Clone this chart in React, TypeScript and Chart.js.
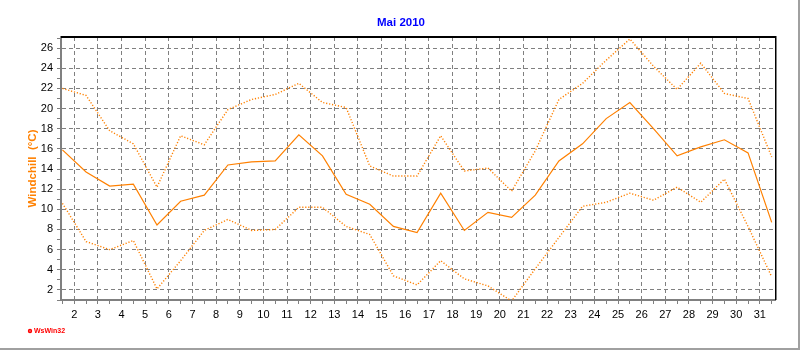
import { useEffect, useRef } from 'react';
import { Chart, registerables } from 'chart.js';

Chart.register(...registerables);

// ---- data (Mai 2010, Windchill °C) ----
const days = [1, 2, 3, 4, 5, 6, 7, 8, 9, 10, 11, 12, 13, 14, 15, 16, 17, 18, 19, 20, 21, 22, 23, 24, 25, 26, 27, 28, 29, 30, 31];
const maxTemps = [22.0, 21.3, 17.8, 16.5, 12.2, 17.3, 16.4, 19.9, 20.9, 21.4, 22.5, 20.6, 20.1, 14.3, 13.3, 13.3, 17.3, 13.8, 14.1, 11.8, 15.8, 20.9, 22.5, 24.8, 26.9, 24.2, 21.9, 24.5, 21.5, 21.0, 15.2];
const meanTemps = [15.9, 13.7, 12.3, 12.5, 8.45, 10.8, 11.4, 14.4, 14.7, 14.8, 17.4, 15.3, 11.5, 10.5, 8.3, 7.7, 11.6, 7.9, 9.7, 9.2, 11.4, 14.8, 16.5, 19.0, 20.6, 18.0, 15.3, 16.2, 16.9, 15.6, 8.7];
const minTemps = [10.6, 6.8, 6.0, 6.9, 2.1, 4.9, 7.9, 9.0, 7.9, 8.0, 10.2, 10.2, 8.3, 7.5, 3.4, 2.5, 4.9, 3.1, 2.4, 0.9, 4.1, 7.2, 10.3, 10.7, 11.6, 10.9, 12.2, 10.7, 13.0, 8.3, 3.3];
const xTickDays = [2, 3, 4, 5, 6, 7, 8, 9, 10, 11, 12, 13, 14, 15, 16, 17, 18, 19, 20, 21, 22, 23, 24, 25, 26, 27, 28, 29, 30, 31];
const yTickValues = [2, 4, 6, 8, 10, 12, 14, 16, 18, 20, 22, 24, 26];
const yMinorValues = [1, 3, 5, 7, 9, 11, 13, 15, 17, 19, 21, 23, 25, 27];

const titleText = 'Mai 2010';
const yAxisTitle = 'Windchill  (°C)';
const logoText = 'WsWin32';

const ORANGE = '#FF8000';
const GRID = '#808080';
const FONT = '"Liberation Sans", Arial, sans-serif';

const toPoints = (vals: number[]) => vals.map((v, i) => ({ x: days[i] + 0.5, y: v }));

const framePlugin = {
  id: 'frame',
  afterDraw(chart: any) {
    const { ctx, chartArea: a, width, height } = chart;
    ctx.save();
    // title
    ctx.fillStyle = '#0000FF';
    ctx.font = `bold 11.5px ${FONT}`;
    ctx.textAlign = 'center';
    ctx.textBaseline = 'middle';
    ctx.fillText(titleText, 401, 23);
    // plot frame (top / right)
    ctx.fillStyle = '#000';
    ctx.fillRect(a.left, a.top - 1, a.right - a.left + 1, 2);
    ctx.fillRect(a.right, a.top - 1, 1.5, a.bottom - a.top + 1);
    // outer shadow frame
    ctx.fillStyle = '#a0a0a0';
    ctx.fillRect(0, height - 2, width, 2);
    ctx.fillRect(width - 2, 0, 2, height);
    // logo
    ctx.fillStyle = '#FF0000';
    ctx.beginPath();
    ctx.arc(30, 331, 2.2, 0, Math.PI * 2);
    ctx.fill();
    ctx.fillStyle = '#fff';
    ctx.fillRect(29.5, 330.5, 1, 1);
    ctx.fillStyle = '#FF0000';
    ctx.font = `bold 7px ${FONT}`;
    ctx.textBaseline = 'middle';
    ctx.textAlign = 'left';
    ctx.fillText(logoText, 34, 331.5);
    ctx.restore();
  },
};

export default function App() {
  const ref = useRef<HTMLCanvasElement>(null);

  useEffect(() => {
    if (!ref.current) return;
    const xTicks: number[] = [];
    days.forEach((d) => {
      xTicks.push(d + 0.5);
      if (d + 1 <= days[days.length - 1]) xTicks.push(d + 1);
    });
    const yTicks = [...yMinorValues, ...yTickValues].sort((a, b) => a - b);

    const dotted = {
      borderColor: ORANGE,
      borderWidth: 1.4,
      borderDash: [1.2, 1.8],
      pointRadius: 0,
      tension: 0,
      fill: false,
    };

    const chart = new Chart(ref.current, {
      type: 'line',
      data: {
        datasets: [
          { label: 'Max', data: toPoints(maxTemps), ...dotted },
          {
            label: 'Mittel',
            data: toPoints(meanTemps),
            borderColor: ORANGE,
            borderWidth: 1.2,
            pointRadius: 0,
            tension: 0,
            fill: false,
          },
          { label: 'Min', data: toPoints(minTemps), ...dotted },
        ],
      },
      options: {
        responsive: false,
        animation: false,
        devicePixelRatio: 1,
        layout: { padding: { left: 0, right: 25, top: 37, bottom: 0 }, autoPadding: false },
        plugins: {
          legend: { display: false },
          tooltip: { enabled: false },
          title: { display: false },
        },
        scales: {
          x: {
            type: 'linear',
            min: 1.44,
            max: 31.64,
            afterBuildTicks: (s: any) => {
              s.ticks = xTicks.map((v) => ({ value: v }));
            },
            afterFit: (s: any) => {
              s.height = 50;
            },
            ticks: {
              autoSkip: false,
              maxRotation: 0,
              color: '#000',
              padding: 4,
              font: { family: FONT, size: 11 },
              callback: (v: any) => (xTickDays.includes(Number(v)) ? String(v) : ''),
            },
            grid: {
              color: (c: any) => (c.tick && Number.isInteger(c.tick.value) ? GRID : 'rgba(0,0,0,0)'),
              tickColor: GRID,
              tickLength: 4,
              lineWidth: 1,
            },
            border: { display: true, color: GRID, width: 2, dash: [4, 3] },
          },
          y: {
            type: 'linear',
            min: 1,
            max: 27.1,
            afterBuildTicks: (s: any) => {
              s.ticks = yTicks.map((v) => ({ value: v }));
            },
            afterFit: (s: any) => {
              s.width = 61;
            },
            ticks: {
              autoSkip: false,
              color: '#000',
              padding: 4,
              font: { family: FONT, size: 11 },
              callback: (v: any) => (yTickValues.includes(Number(v)) ? String(v) : ''),
            },
            grid: {
              color: (c: any) => (c.tick && yTickValues.includes(c.tick.value) ? GRID : 'rgba(0,0,0,0)'),
              tickColor: GRID,
              tickLength: 4,
              lineWidth: 1,
            },
            border: { display: true, color: GRID, width: 2, dash: [4, 3] },
            title: {
              display: true,
              text: yAxisTitle,
              color: ORANGE,
              font: { family: FONT, size: 11.5, weight: 'bold', lineHeight: 1.2 },
              padding: { top: 25.6, bottom: 0 },
            },
          },
        },
      },
      plugins: [framePlugin],
    });
    return () => chart.destroy();
  }, []);

  return (
    <div style={{ position: 'absolute', left: 0, top: 0, width: 800, height: 350, background: '#fff' }}>
      <canvas ref={ref} width={800} height={350} style={{ display: 'block' }} />
    </div>
  );
}
